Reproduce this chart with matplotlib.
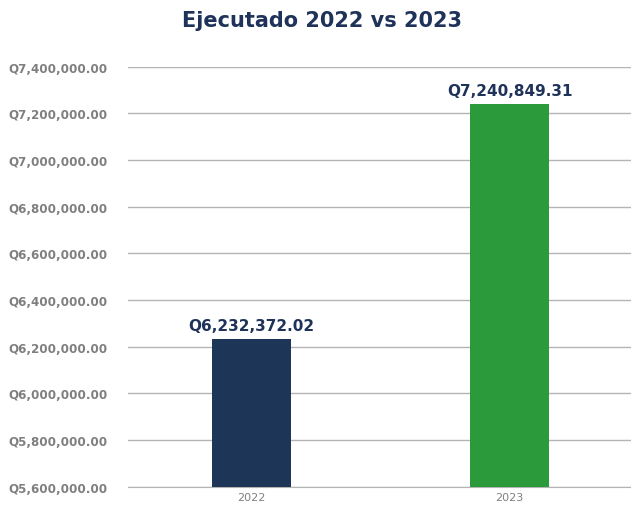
import matplotlib.pyplot as plt
from matplotlib.ticker import FuncFormatter

years = ["2022", "2023"]
amounts = [6232372.02, 7240849.31]
bar_colors = ["#1d3557", "#2a9a3b"]
y_ticks = [5600000, 5800000, 6000000, 6200000, 6400000, 6600000, 6800000, 7000000, 7200000, 7400000]

navy = "#1f3259"
grey = "#7f7f7f"

fig = plt.figure(figsize=(6.31, 5.06), dpi=100)
ax = fig.add_axes([0.203, 0.036, 0.797, 0.83])

x = range(len(years))
bars = ax.bar(x, amounts, width=0.306, color=bar_colors, zorder=3)

for b, v in zip(bars, amounts):
    ax.text(b.get_x() + b.get_width() / 2, v + 25000, f"Q{v:,.2f}",
            ha="center", va="bottom", fontsize=11, fontweight="heavy", color=navy)

ax.set_ylim(5600000, 7400000)
ax.set_xlim(-0.479, 1.471)
ax.set_yticks(y_ticks)
ax.yaxis.set_major_formatter(FuncFormatter(lambda v, p: f"Q{v:,.2f}"))
ax.set_xticks(list(x))
ax.set_xticklabels(years)

ax.grid(axis="y", color="#b4b4b4", linewidth=1, zorder=0)
for s in ["top", "right", "left"]:
    ax.spines[s].set_visible(False)
ax.spines["bottom"].set_color("#b4b4b4")
ax.tick_params(axis="y", length=0, pad=15, labelsize=8.6, labelcolor=grey)
ax.tick_params(axis="x", length=0, pad=4, labelsize=8, labelcolor=grey)
for lab in ax.get_yticklabels():
    lab.set_fontweight("bold")

fig.text(0.51, 0.958, "Ejecutado 2022 vs 2023", ha="center", va="center",
         fontsize=15, fontweight="heavy", color=navy)

fig.savefig("out.png", dpi=100)
